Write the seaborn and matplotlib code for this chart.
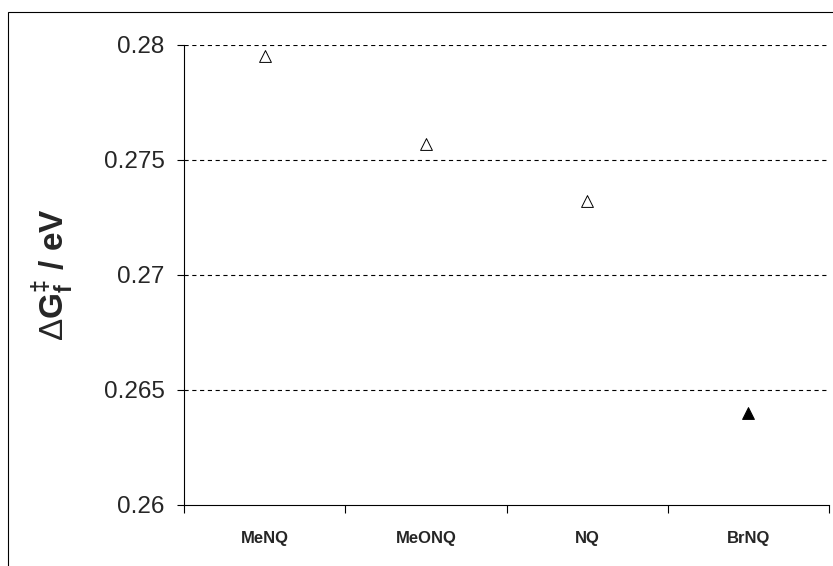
import matplotlib
matplotlib.use("Agg")
import matplotlib.pyplot as plt
from matplotlib.patches import Rectangle
import pandas as pd
import seaborn as sns

# Activation free energies for the quinone series
compounds = ["MeNQ", "MeONQ", "NQ", "BrNQ"]
barrier_ev = [0.2795, 0.2757, 0.2732, 0.2640]
marker_fill = ["open", "open", "open", "filled"]

y_ticks = [0.26, 0.265, 0.27, 0.275, 0.28]
y_tick_labels = ["0.26", "0.265", "0.27", "0.275", "0.28"]

df = pd.DataFrame({"compound": compounds, "barrier": barrier_ev, "fill": marker_fill})

sns.set_style("ticks")
plt.rcParams["font.family"] = ["Liberation Sans", "DejaVu Sans"]
plt.rcParams["mathtext.fontset"] = "custom"
plt.rcParams["mathtext.rm"] = "Liberation Sans"
plt.rcParams["mathtext.bf"] = "Liberation Sans:bold"
plt.rcParams["mathtext.it"] = "Liberation Sans:italic"
plt.rcParams["lines.scale_dashes"] = False

fig = plt.figure(figsize=(8.33, 5.66), dpi=100)
fig.patch.set_facecolor("white")
ax = fig.add_axes([0.2209, 0.1078, 0.7743, 0.8127])

sns.stripplot(
    data=df, x="compound", y="barrier", hue="fill", order=compounds,
    palette={"open": "white", "filled": "black"},
    marker="^", size=8.5, linewidth=0.7, edgecolor="black",
    jitter=False, dodge=False, legend=False, ax=ax, zorder=3,
)

ax.set_xlim(-0.5, len(compounds) - 0.5)
ax.set_ylim(y_ticks[0], y_ticks[-1])
ax.set_yticks(y_ticks)
ax.set_yticklabels(y_tick_labels)

# category boundaries carry the tick marks, centres carry the names
ax.set_xticks([i - 0.5 for i in range(len(compounds) + 1)])
ax.set_xticklabels([])
ax.set_xticks(range(len(compounds)), minor=True)
ax.set_xticklabels(compounds, minor=True, fontsize=12, fontweight="bold")
ax.tick_params(axis="x", which="major", length=5.5, width=0.8, direction="out", color="black")
ax.tick_params(axis="x", which="minor", length=0, pad=19)
ax.tick_params(axis="y", which="major", length=5, width=0.8, direction="out",
               labelsize=17.5, pad=9, color="black")

ax.yaxis.grid(True, color="black", linewidth=0.8, linestyle=(0, (3.0, 2.6)))
for gl in ax.get_ygridlines()[:1]:
    gl.set_visible(False)

sns.despine(ax=ax, top=True, right=True)
for side in ("left", "bottom"):
    ax.spines[side].set_color("black")
    ax.spines[side].set_linewidth(0.8)

ax.set_xlabel("")
ax.set_ylabel(r"$\Delta\mathbf{G_f^{‡}}$ / eV", fontsize=24, fontweight="bold")
ax.yaxis.set_label_coords(-0.168, 0.5)

# outer chart frame
fig.add_artist(Rectangle((8 / 833, -0.2), 1.2, 0.2 + 1 - 12 / 566,
                         transform=fig.transFigure, fill=False,
                         edgecolor="black", linewidth=0.8))

fig.savefig("out.png", dpi=100)
